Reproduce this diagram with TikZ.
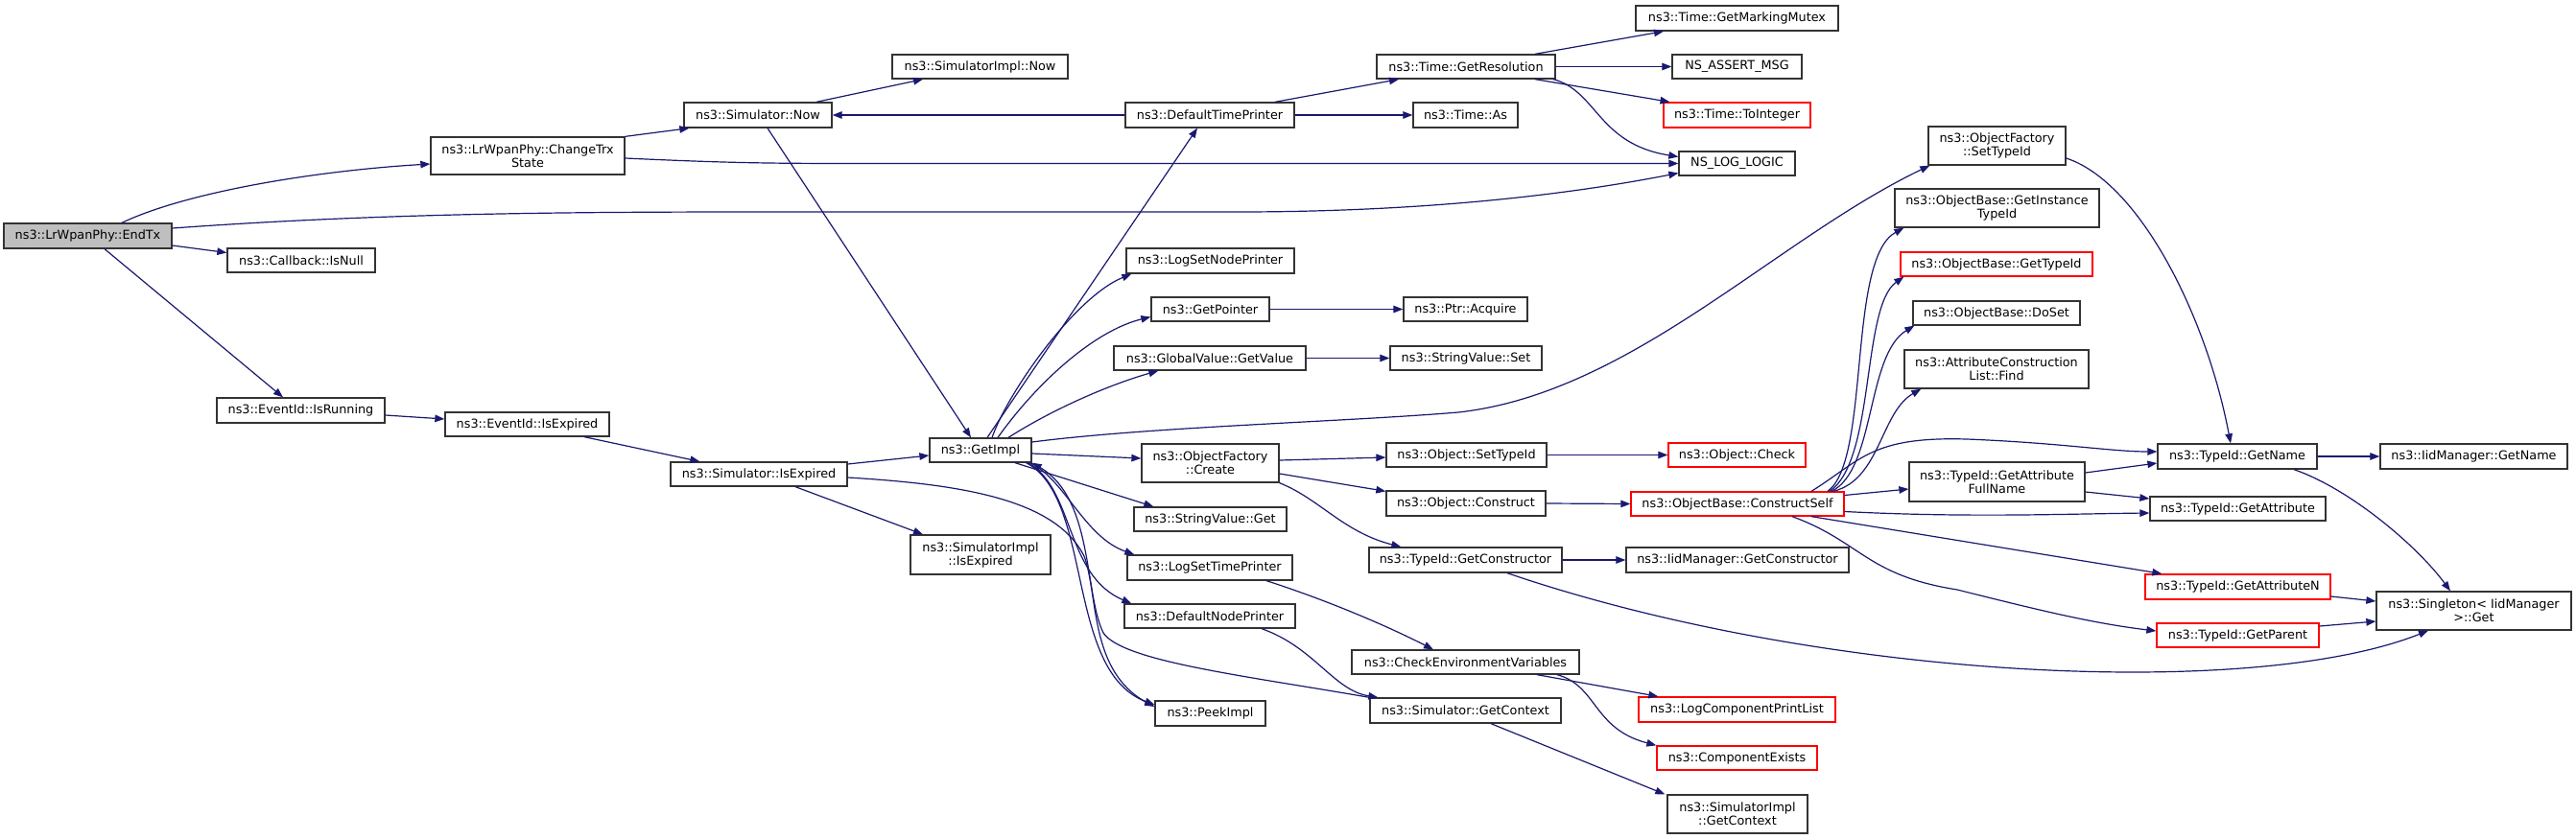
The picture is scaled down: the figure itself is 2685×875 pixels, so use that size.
\documentclass[tikz,border=0pt]{standalone}
\usepackage{fontspec}
\setmainfont{DejaVu Sans}
\usetikzlibrary{arrows.meta}
\definecolor{edgec}{HTML}{191970}
\definecolor{boxc}{HTML}{333333}
\definecolor{redc}{HTML}{FF0000}
\definecolor{grayfill}{HTML}{BFBFBF}
\begin{document}
\begin{tikzpicture}[x=1pt,y=-1pt,
  box/.style={draw=boxc, line width=1.3pt, fill=white, inner sep=0pt, align=center, font=\fontsize{12.8}{14}\selectfont},
  redbox/.style={box, draw=redc},
  curbox/.style={box, fill=grayfill},
  link/.style={draw=edgec, line width=1.2pt, -{Triangle[length=10pt,width=7.5pt]}}]
\fill[white] (0,0) rectangle (2685,875);
\useasboundingbox (0,0) rectangle (2685,875);
% nodes
\node[curbox, minimum width=175pt, minimum height=26pt] (endtx) at (91.5,246) {ns3::LrWpanPhy::EndTx};
\node[box, minimum width=202pt, minimum height=39pt] (chg) at (550,162.5) {ns3::LrWpanPhy::ChangeTrx\\State};
\node[box, minimum width=154pt, minimum height=25pt] (isnull) at (314,271.5) {ns3::Callback::IsNull};
\node[box, minimum width=175pt, minimum height=26pt] (isrun) at (313.5,428) {ns3::EventId::IsRunning};
\node[box, minimum width=171pt, minimum height=25pt] (evexp) at (549.5,442.5) {ns3::EventId::IsExpired};
\node[box, minimum width=154pt, minimum height=26pt] (simnow) at (790,120) {ns3::Simulator::Now};
\node[box, minimum width=183pt, minimum height=25pt] (simimplnow) at (1021.5,69.5) {ns3::SimulatorImpl::Now};
\node[box, minimum width=184pt, minimum height=25pt] (simexp) at (791,494.5) {ns3::Simulator::IsExpired};
\node[box, minimum width=146pt, minimum height=41pt] (simimplexp) at (1022,578.5) {ns3::SimulatorImpl\\::IsExpired};
\node[box, minimum width=106pt, minimum height=25pt] (getimpl) at (1022,469.5) {ns3::GetImpl};
\node[box, minimum width=176pt, minimum height=26pt] (dtp) at (1261,120) {ns3::DefaultTimePrinter};
\node[box, minimum width=175pt, minimum height=26pt] (lsnp) at (1261.5,272) {ns3::LogSetNodePrinter};
\node[box, minimum width=123pt, minimum height=25pt] (getptr) at (1261.5,322.5) {ns3::GetPointer};
\node[box, minimum width=200pt, minimum height=25pt] (gvget) at (1261,373.5) {ns3::GlobalValue::GetValue};
\node[box, minimum width=143pt, minimum height=40pt] (ofcreate) at (1261.5,483) {ns3::ObjectFactory\\::Create};
\node[box, minimum width=159pt, minimum height=25pt] (svget) at (1261.5,541.5) {ns3::StringValue::Get};
\node[box, minimum width=172pt, minimum height=26pt] (lstp) at (1261,592) {ns3::LogSetTimePrinter};
\node[box, minimum width=178pt, minimum height=25pt] (dnp) at (1261,642.5) {ns3::DefaultNodePrinter};
\node[box, minimum width=115pt, minimum height=26pt] (peek) at (1261.5,744) {ns3::PeekImpl};
\node[box, minimum width=186pt, minimum height=25pt] (getres) at (1528,69.5) {ns3::Time::GetResolution};
\node[box, minimum width=109pt, minimum height=26pt] (timeas) at (1527.5,120) {ns3::Time::As};
\node[box, minimum width=129pt, minimum height=25pt] (acquire) at (1527.5,322.5) {ns3::Ptr::Acquire};
\node[box, minimum width=158pt, minimum height=25pt] (svset) at (1528,373.5) {ns3::StringValue::Set};
\node[box, minimum width=167pt, minimum height=25pt] (osettid) at (1528.5,474.5) {ns3::Object::SetTypeId};
\node[box, minimum width=166pt, minimum height=26pt] (oconstr) at (1528,525) {ns3::Object::Construct};
\node[box, minimum width=201pt, minimum height=26pt] (tgetctor) at (1527.5,584) {ns3::TypeId::GetConstructor};
\node[box, minimum width=237pt, minimum height=25pt] (checkenv) at (1527.5,690.5) {ns3::CheckEnvironmentVariables};
\node[box, minimum width=199pt, minimum height=26pt] (simgetctx) at (1527.5,741) {ns3::Simulator::GetContext};
\node[box, minimum width=211pt, minimum height=26pt] (mutex) at (1810.5,19) {ns3::Time::GetMarkingMutex};
\node[box, minimum width=135pt, minimum height=25pt] (assert) at (1810.5,69.5) {NS\_ASSERT\_MSG};
\node[redbox, minimum width=153pt, minimum height=26pt] (toint) at (1810.5,120) {ns3::Time::ToInteger};
\node[box, minimum width=121pt, minimum height=25pt] (loglogic) at (1810.5,170.5) {NS\_LOG\_LOGIC};
\node[redbox, minimum width=143pt, minimum height=25pt] (ocheck) at (1810.5,474.5) {ns3::Object::Check};
\node[redbox, minimum width=222pt, minimum height=25pt] (cself) at (1811,525.5) {ns3::ObjectBase::ConstructSelf};
\node[box, minimum width=232pt, minimum height=26pt] (iidgetctor) at (1811,584) {ns3::IidManager::GetConstructor};
\node[redbox, minimum width=205pt, minimum height=26pt] (lcpl) at (1810.5,740) {ns3::LogComponentPrintList};
\node[redbox, minimum width=167pt, minimum height=25pt] (compex) at (1810.5,790.5) {ns3::ComponentExists};
\node[box, minimum width=146pt, minimum height=40pt] (simimplctx) at (1811,849) {ns3::SimulatorImpl\\::GetContext};
\node[box, minimum width=143pt, minimum height=40pt] (ofsettid) at (2081.5,152) {ns3::ObjectFactory\\::SetTypeId};
\node[box, minimum width=213pt, minimum height=40pt] (getinst) at (2081.5,217) {ns3::ObjectBase::GetInstance\\TypeId};
\node[redbox, minimum width=200pt, minimum height=25pt] (obgettid) at (2081,275.5) {ns3::ObjectBase::GetTypeId};
\node[box, minimum width=174pt, minimum height=25pt] (doset) at (2081,326.5) {ns3::ObjectBase::DoSet};
\node[box, minimum width=192pt, minimum height=40pt] (acfind) at (2081,385) {ns3::AttributeConstruction\\List::Find};
\node[box, minimum width=183pt, minimum height=41pt] (gafn) at (2081.5,502.5) {ns3::TypeId::GetAttribute\\FullName};
\node[box, minimum width=166pt, minimum height=26pt] (tgetname) at (2332,476) {ns3::TypeId::GetName};
\node[box, minimum width=183pt, minimum height=25pt] (tgetattr) at (2332.5,530.5) {ns3::TypeId::GetAttribute};
\node[redbox, minimum width=193pt, minimum height=26pt] (tgetattrn) at (2332.5,612) {ns3::TypeId::GetAttributeN};
\node[redbox, minimum width=169pt, minimum height=25pt] (tgetparent) at (2332.5,662.5) {ns3::TypeId::GetParent};
\node[box, minimum width=195pt, minimum height=26pt] (iidgetname) at (2578.5,476) {ns3::IidManager::GetName};
\node[box, minimum width=203pt, minimum height=40pt] (singleton) at (2578.5,637) {ns3::Singleton< IidManager\\>::Get};
% edges
\draw[link] ([xshift=35.5pt]endtx.north) .. controls (195,200) and (330,178) .. ([yshift=-8.5pt]chg.west);
\draw[link] ([yshift=8pt]endtx.east) .. controls (400,222) and (600,221) .. (800,221) -- (1290,221) .. controls (1500,221) and (1650,200) .. ([yshift=-10pt]loglogic.west);
\draw[link] ([yshift=-10pt]endtx.east) -- ([yshift=8pt]isnull.west);
\draw[link] ([xshift=17.5pt]endtx.south) -- ([xshift=-18.5pt]isrun.north);
\draw[link] (chg.north east) -- ([xshift=6pt]simnow.south west);
\draw[link] ([yshift=-2.5pt]chg.east) .. controls (760,170) and (800,170.5) .. (900,170.5) -- (loglogic.west);
\draw[link] ([yshift=-5pt]isrun.east) -- ([yshift=5.5pt]evexp.west);
\draw[link] ([xshift=59.5pt]evexp.south) -- ([xshift=31pt]simexp.north west);
\draw[link] ([yshift=10.5pt]simexp.east) -- ([yshift=-5.5pt]getimpl.west);
\draw[link] ([xshift=38pt]simexp.south) -- ([xshift=-60pt]simimplexp.north);
\draw[link] ([yshift=-3.5pt]simexp.east) .. controls (1000,505) and (1100,520) .. (1130,580) .. controls (1145,620) and (1135,700) .. ([yshift=7pt]peek.west);
\draw[link] ([xshift=61pt]simnow.north) -- ([xshift=-59.5pt]simimplnow.south);
\draw[link] ([xshift=10pt]simnow.south) -- ([xshift=-10pt]getimpl.north);
\draw[link] (dtp.west) -- (simnow.east);
\draw[link] ([xshift=7pt]getimpl.north) -- ([xshift=-13pt]dtp.south);
\draw[link] ([xshift=68pt]dtp.north) -- ([xshift=-70pt]getres.south);
\draw[link] (dtp.east) -- (timeas.west);
\draw[link] ([xshift=72pt]getres.north) -- ([xshift=-76.5pt]mutex.south);
\draw[link] (getres.east) -- (assert.west);
\draw[link] ([xshift=72pt]getres.south) -- ([xshift=-70pt]toint.north);
\draw[link] ([xshift=91pt]getres.south) .. controls (1665,95) and (1665,150) .. ([yshift=7pt]loglogic.west);
\draw[link] ([xshift=12pt]getimpl.north) .. controls (1050,410) and (1120,310) .. ([xshift=6pt]lsnp.south west);
\draw[link] ([xshift=18pt]getimpl.north) .. controls (1080,400) and (1140,345) .. ([yshift=-8pt]getptr.west);
\draw[link] ([xshift=29pt]getimpl.north) .. controls (1100,425) and (1160,400) .. ([xshift=47pt]gvget.south west);
\draw[link] ([yshift=8.5pt]getimpl.east) .. controls (1200,445) and (1400,440) .. (1520,430) .. controls (1700,410) and (1850,250) .. ([xshift=2pt]ofsettid.south west);
\draw[link] ([yshift=-3.5pt]getimpl.east) -- ([yshift=5pt]ofcreate.west);
\draw[link] ([xshift=36pt]getimpl.south) -- ([xshift=21pt]svget.north west);
\draw[link] ([xshift=-2pt]getimpl.south east) .. controls (1110,500) and (1130,560) .. ([xshift=8pt]lstp.north west);
\draw[link] ([xshift=-4pt]getimpl.south east) .. controls (1120,510) and (1110,600) .. ([xshift=8pt]dnp.north west);
\draw[link] ([xshift=-6pt]getimpl.south east) .. controls (1140,520) and (1110,700) .. ([yshift=9pt]peek.west);
\draw[link] (simgetctx.north west) .. controls (1300,705) and (1170,690) .. (1150,660) .. controls (1130,620) and (1140,520) .. (getimpl.south east);
\draw[link] (getptr.east) -- (acquire.west);
\draw[link] (gvget.east) -- (svset.west);
\draw[link] ([yshift=3pt]ofcreate.east) -- ([yshift=-2.5pt]osettid.west);
\draw[link] ([yshift=-11pt]ofcreate.east) -- ([yshift=-1pt]oconstr.north west);
\draw[link] (ofcreate.south east) .. controls (1375,520) and (1400,555) .. ([xshift=34pt]tgetctor.north west);
\draw[link] (osettid.east) -- (ocheck.west);
\draw[link] (oconstr.east) -- (cself.west);
\draw[link] (tgetctor.east) -- (iidgetctor.west);
\draw[link] ([xshift=43.5pt]tgetctor.south) .. controls (1900,710) and (2350,730) .. ([xshift=-47.5pt]singleton.south);
\draw[link] ([xshift=59pt]lstp.south) .. controls (1380,625) and (1440,650) .. ([xshift=-33.5pt]checkenv.north);
\draw[link] ([xshift=54pt]dnp.south) .. controls (1370,675) and (1390,720) .. ([xshift=9pt]simgetctx.north west);
\draw[link] ([xshift=74.5pt]checkenv.south) -- ([xshift=21pt]lcpl.north west);
\draw[link] ([xshift=95.5pt]checkenv.south) .. controls (1665,715) and (1660,760) .. (compex.north west);
\draw[link] ([xshift=26.5pt]simgetctx.south) -- ([xshift=-2pt]simimplctx.north west);
\draw[link] ([xshift=94pt]cself.north) .. controls (1950,480) and (1925,270) .. ([xshift=10pt]getinst.south west);
\draw[link] ([xshift=96pt]cself.north) .. controls (1955,480) and (1940,320) .. ([xshift=4pt]obgettid.south west);
\draw[link] ([xshift=98pt]cself.north) .. controls (1955,490) and (1945,370) .. ([xshift=2pt]doset.south west);
\draw[link] ([xshift=100pt]cself.north) .. controls (1960,500) and (1960,430) .. ([xshift=18pt]acfind.south west);
\draw[link] ([xshift=77pt]cself.north) .. controls (1940,480) and (1950,455) .. (2050,458) .. controls (2150,462) and (2200,471) .. ([yshift=5pt]tgetname.west);
\draw[link] ([yshift=9pt]cself.east) -- ([yshift=-7.5pt]gafn.west);
\draw[link] ([yshift=-8pt]cself.east) .. controls (2050,540) and (2150,536) .. ([yshift=-4.5pt]tgetattr.west);
\draw[link] ([xshift=77pt]cself.south) -- ([xshift=18pt]tgetattrn.north west);
\draw[link] ([xshift=57pt]cself.south) .. controls (1940,565) and (1945,600) .. (2040,615) .. controls (2120,635) and (2180,650) .. ([yshift=4.5pt]tgetparent.west);
\draw[link] ([yshift=-13pt]ofsettid.east) .. controls (2230,190) and (2300,330) .. ([xshift=-7pt]tgetname.north);
\draw[link] (tgetname.east) -- (iidgetname.west);
\draw[link] ([xshift=59pt]tgetname.south) .. controls (2450,510) and (2520,570) .. ([xshift=-24.5pt]singleton.north);
\draw[link] ([yshift=9.5pt]gafn.east) -- ([yshift=-7pt]tgetname.west);
\draw[link] ([yshift=-10.5pt]gafn.east) -- ([yshift=10.5pt]tgetattr.west);
\draw[link] ([yshift=-10pt]tgetattrn.east) -- ([yshift=10pt]singleton.west);
\draw[link] ([yshift=9.5pt]tgetparent.east) -- ([yshift=-11pt]singleton.west);
\end{tikzpicture}
\end{document}
